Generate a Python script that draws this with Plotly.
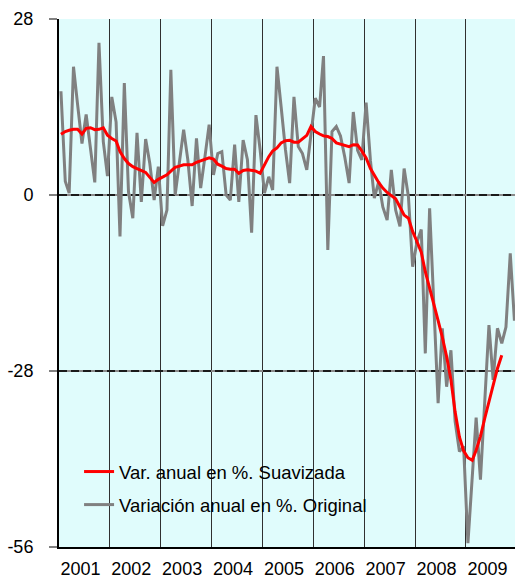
import plotly.graph_objects as go
import pandas as pd

years = [str(y) for y in range(2001, 2010)]

original = [
    # 2001
    16.5, 2.2, 0.3, 20.4, 14.3, 8.2, 12.8, 7.7, 2.0, 24.2, 8.5, 3.0,
    # 2002
    15.6, 11.6, -6.6, 17.8, 0.5, -3.7, 9.9, -1.1, 8.9, 5.0, -0.8, 4.5,
    # 2003
    -4.9, -2.4, 19.9, 0.0, 5.0, 10.4, 5.6, -1.75, 9.0, 1.1, 6.1, 11.2,
    # 2004
    3.2, 6.6, 6.9, 0.0, -0.8, 8.0, -1.1, 8.75, 5.6, -6.0, 12.7, 7.2,
    # 2005
    0.3, 2.9, 0.8, 20.4, 14.0, 7.2, 1.9, 15.6, 7.7, 6.6, 4.0, 9.8,
    # 2006
    15.4, 14.0, 22.1, -8.75, 10.1, 10.9, 9.4, 6.0, 1.9, 13.2, 7.1, 5.6,
    # 2007
    14.7, 5.5, -0.5, 2.1, -1.9, -4.0, 4.0, -2.4, -5.0, 4.2, -0.3, -11.4,
    # 2008
    -7.5, -5.5, -25.2, -2.1, -17.0, -33.1, -21.2, -30.5, -24.7, -36.0, -40.8, -40.0,
    # 2009
    -55.4, -45.0, -35.4, -45.3, -33.0, -20.7, -29.4, -21.2, -23.6, -21.0, -9.3, -20.0,
]

suavizada = [
    # 2001
    9.65, 10.1, 10.3, 10.45, 10.45, 9.7, 10.6, 10.7, 10.4, 10.45, 10.7, 9.5,
    # 2002
    9.0, 8.6, 6.9, 5.8, 5.0, 4.5, 4.2, 3.9, 3.6, 2.8, 2.0, 2.5,
    # 2003
    2.8, 3.2, 3.8, 4.4, 4.6, 4.8, 4.8, 4.8, 5.2, 5.4, 5.7, 5.9,
    # 2004
    5.7, 4.9, 4.6, 4.2, 4.1, 4.1, 3.45, 3.9, 4.0, 3.9, 3.8, 3.45,
    # 2005
    4.9, 6.1, 7.0, 7.5, 8.3, 8.65, 8.7, 8.4, 8.4, 8.9, 9.5, 10.9,
    # 2006
    10.1, 9.7, 9.4, 9.3, 9.0, 8.3, 8.1, 8.0, 7.7, 8.0, 7.95, 7.0,
    # 2007
    5.9, 4.2, 3.1, 2.0, 1.1, 0.4, -0.1, -0.6, -1.9, -3.2, -3.7, -5.8,
    # 2008
    -7.4, -9.1, -12.2, -14.7, -17.5, -20.0, -22.6, -25.7, -29.4, -34.5, -38.5, -40.7,
    # 2009
    -41.8, -42.2, -40.6, -38.4, -35.6, -33.0, -30.2, -27.6, -25.5, None, None, None,
]

dates = pd.date_range("2001-01-01", periods=108, freq="MS") + pd.Timedelta(days=14)

FONT = "Arial, Liberation Sans, sans-serif"

fig = go.Figure()
fig.add_trace(go.Scatter(
    x=dates, y=original, mode="lines", name="Variación anual en %. Original",
    line=dict(color="#808080", width=3), legendgroup="b", legendrank=2,
))
fig.add_trace(go.Scatter(
    x=dates, y=suavizada, mode="lines", name="Var. anual en %. Suavizada",
    line=dict(color="#FF0000", width=3), legendgroup="a", legendrank=1,
))
# invisible overlay axis that carries the dashed dark gridlines over the grey ones
fig.add_trace(go.Scatter(x=[dates[0]], y=[0], yaxis="y2", mode="lines",
                         showlegend=False, hoverinfo="skip",
                         line=dict(color="rgba(0,0,0,0)")))

tickvals = [pd.Timestamp(f"{y}-06-04") for y in years]

fig.update_layout(
    width=515, height=579,
    margin=dict(l=59, r=0, t=19, b=32),
    paper_bgcolor="white",
    plot_bgcolor="#E0FCFC",
    font=dict(family=FONT, size=18, color="black"),
    showlegend=True,
    legend=dict(
        x=0.044, y=0.178, xanchor="left", yanchor="top",
        bgcolor="rgba(0,0,0,0)", borderwidth=0,
        font=dict(size=18.5, family=FONT, color="black"),
        traceorder="grouped", tracegroupgap=6, itemwidth=30,
    ),
    xaxis=dict(
        type="date", automargin=False,
        range=[pd.Timestamp("2001-01-01"), pd.Timestamp("2009-12-19")],
        tickmode="array", tickvals=tickvals, ticktext=years,
        ticks="", showgrid=False, ticklabelstandoff=4,
        showline=True, linecolor="black", linewidth=2,
        tickfont=dict(size=18, family=FONT),
        minor=dict(tick0="2001-01-01", dtick="M12", showgrid=True,
                   gridcolor="#303030", gridwidth=1.3, ticks=""),
        zeroline=False,
    ),
    yaxis=dict(
        range=[-56, 28], tickmode="array", tickvals=[-56, -28, 0, 28],
        ticktext=["-56", "-28", "0", "28"], automargin=False,
        ticks="outside", ticklen=8, tickwidth=2, tickcolor="#808080",
        ticklabelstandoff=12,
        showgrid=True, gridcolor="#8a8a8a", gridwidth=2,
        showline=True, linecolor="black", linewidth=2,
        zeroline=False,
        tickfont=dict(size=18, family=FONT),
    ),
    yaxis2=dict(
        range=[-56, 28], overlaying="y", side="left", automargin=False,
        tickmode="array", tickvals=[-28, 0, 28],
        showticklabels=False, ticks="", showline=False,
        showgrid=True, gridcolor="#1a1a1a", gridwidth=2, griddash="8px,4px",
        zeroline=False,
    ),
)

fig.write_html("out.html", config={"displayModeBar": False},
               post_script="document.body.style.margin='0';")
